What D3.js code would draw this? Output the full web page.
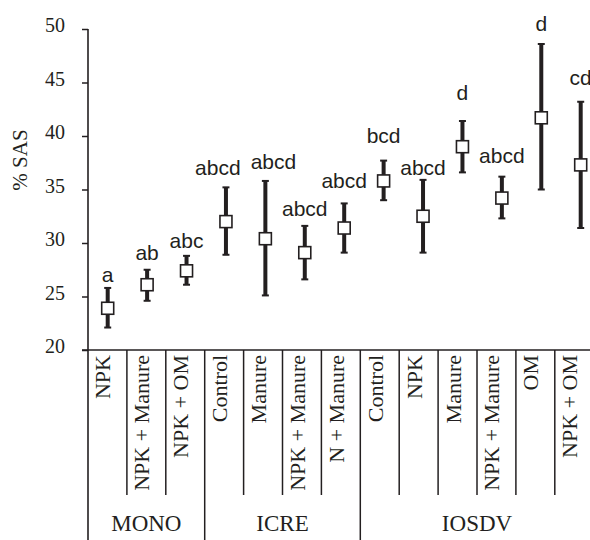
<!DOCTYPE html>
<html>
<head>
<meta charset="utf-8">
<script src="https://cdn.jsdelivr.net/npm/d3@7"></script>
<style>
  body { margin: 0; background: #fff; }
  svg { display: block; }
  .tick text { font-family: "Liberation Serif", serif; font-size: 20px; fill: #231f20; }
</style>
</head>
<body>
<div id="chart"></div>
<script>
var width = 590, height = 540;

// treatments, one per column
var treatments = ['NPK', 'NPK + Manure', 'NPK + OM',
  'Control', 'Manure', 'NPK + Manure', 'N + Manure',
  'Control', 'NPK', 'Manure', 'NPK + Manure', 'OM', 'NPK + OM'];
var groups = ['MONO', 'ICRE', 'IOSDV'];
var groupSize = [3, 4, 6];

// % SAS mean and error bar ends
var means = [23.9, 26.1, 27.4, 32.0, 30.4, 29.1, 31.4, 35.8, 32.5, 39.0, 34.2, 41.7, 37.3];
var upper = [25.8, 27.5, 28.8, 35.2, 35.8, 31.6, 33.7, 37.7, 35.9, 41.4, 36.2, 48.6, 43.2];
var lower = [22.1, 24.6, 26.1, 28.9, 25.1, 26.6, 29.1, 34.0, 29.1, 36.6, 32.3, 35.0, 31.4];

// significance letters and the height (in % SAS) where each sits
var letters = ['a', 'ab', 'abc', 'abcd', 'abcd', 'abcd', 'abcd', 'bcd', 'abcd', 'd', 'abcd', 'd', 'cd'];
var letterAt = [26.4, 28.4, 29.5, 36.4, 36.9, 32.5, 35.1, 39.3, 36.4, 43.4, 37.5, 49.8, 44.8];

var yTicks = [20, 25, 30, 35, 40, 45, 50];

var ink = '#231f20';
var idx = d3.range(treatments.length);

var svg = d3.select('#chart').append('svg')
  .attr('width', width)
  .attr('height', height);

var y = d3.scaleLinear().domain([20, 50]).range([350, 29]);

// columns (labels, separators) and marker positions
var band = d3.scaleBand().domain(idx).range([88, 88 + 13 * 38.9]);
var px = d3.scalePoint().domain(idx).range([107.7, 580.7]);

// y axis
var yAxis = svg.append('g')
  .attr('transform', 'translate(88,0)')
  .call(d3.axisLeft(y).tickValues(yTicks).tickSize(6).tickPadding(17));
yAxis.select('.domain').remove();
yAxis.selectAll('.tick line').attr('stroke', ink).attr('stroke-width', 1.5);
yAxis.selectAll('.tick text').attr('dy', '2.5px');

svg.append('line')
  .attr('x1', 88).attr('x2', 88)
  .attr('y1', y(50)).attr('y2', height)
  .attr('stroke', ink).attr('stroke-width', 1.6);

svg.append('line')
  .attr('x1', 82).attr('x2', width)
  .attr('y1', y(20)).attr('y2', y(20))
  .attr('stroke', ink).attr('stroke-width', 1.6);

svg.append('text')
  .attr('transform', 'translate(27,160) rotate(-90)')
  .attr('text-anchor', 'middle')
  .style('font-family', '"Liberation Serif", serif')
  .style('font-size', '21px')
  .attr('fill', ink)
  .text('% SAS');

// column separators: long ones at group boundaries
var bounds = Array.from(d3.cumsum(groupSize));
var starts = [0].concat(bounds.slice(0, -1));

svg.selectAll('.sep')
  .data(idx.slice(1))
  .enter().append('line')
  .attr('class', 'sep')
  .attr('x1', d => band(d)).attr('x2', d => band(d))
  .attr('y1', y(20))
  .attr('y2', d => bounds.indexOf(d) >= 0 ? height : 495)
  .attr('stroke', ink).attr('stroke-width', 1.5);

svg.selectAll('.cat')
  .data(idx)
  .enter().append('text')
  .attr('class', 'cat')
  .attr('transform', d => 'translate(' + (band(d) + band.bandwidth() / 2 + 3) + ',355) rotate(-90)')
  .attr('text-anchor', 'end')
  .style('font-family', '"Liberation Serif", serif')
  .style('font-size', '22px')
  .attr('fill', ink)
  .text(d => treatments[d]);

svg.selectAll('.grp')
  .data(groups)
  .enter().append('text')
  .attr('class', 'grp')
  .attr('x', (d, i) => band(starts[i]) + groupSize[i] * band.step() / 2)
  .attr('y', 531)
  .attr('text-anchor', 'middle')
  .style('font-family', '"Liberation Serif", serif')
  .style('font-size', '23px')
  .attr('fill', ink)
  .text(d => d);

// error bars
var bars = svg.selectAll('.bar')
  .data(idx)
  .enter().append('g')
  .attr('class', 'bar');

bars.append('line')
  .attr('x1', d => px(d)).attr('x2', d => px(d))
  .attr('y1', d => y(upper[d])).attr('y2', d => y(lower[d]))
  .attr('stroke', ink).attr('stroke-width', 4);

bars.selectAll('.cap')
  .data(d => [[d, upper[d]], [d, lower[d]]])
  .enter().append('line')
  .attr('x1', d => px(d[0]) - 3.5).attr('x2', d => px(d[0]) + 3.5)
  .attr('y1', d => y(d[1])).attr('y2', d => y(d[1]))
  .attr('stroke', ink).attr('stroke-width', 2);

bars.append('rect')
  .attr('x', d => px(d) - 6).attr('y', d => y(means[d]) - 6)
  .attr('width', 12).attr('height', 12)
  .attr('fill', '#fff').attr('stroke', ink).attr('stroke-width', 1.6);

var lab = bars.append('text')
  .attr('x', d => px(d))
  .attr('y', d => y(letterAt[d]))
  .attr('text-anchor', 'middle')
  .style('font-family', '"Liberation Sans", Arial, sans-serif')
  .style('font-size', '21px')
  .attr('fill', ink)
  .text(d => letters[d]);

// push neighbouring letters apart when they would collide
var nodes = lab.nodes();
var cx = idx.map(px), w = nodes.map(n => n.getComputedTextLength());
for (var i = 0; i < idx.length - 1; i++) {
  if (Math.abs(y(letterAt[i]) - y(letterAt[i + 1])) > 16) continue;
  var gap = (cx[i + 1] - w[i + 1] / 2) - (cx[i] + w[i] / 2);
  if (gap < 10) {
    var s = (10 - gap) / 2;
    cx[i] -= s; cx[i + 1] += s;
  }
}
lab.attr('x', d => cx[d]);
</script>
</body>
</html>
